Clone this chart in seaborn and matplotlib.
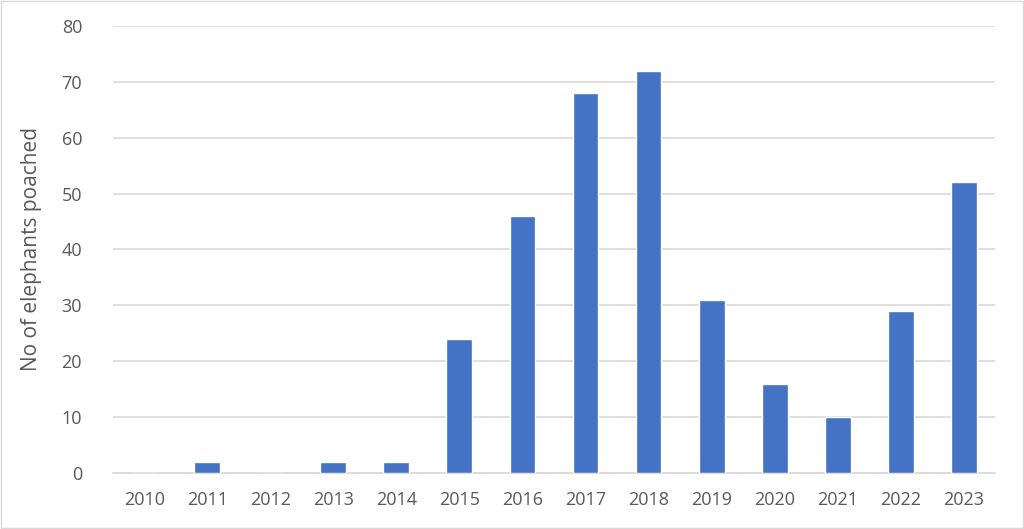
import seaborn as sns, matplotlib.pyplot as plt
import pandas as pd

years = ["2010", "2011", "2012", "2013", "2014", "2015", "2016",
         "2017", "2018", "2019", "2020", "2021", "2022", "2023"]
poached = [0, 2, 0, 2, 2, 24, 46, 68, 72, 31, 16, 10, 29, 52]
yticks = [0, 10, 20, 30, 40, 50, 60, 70, 80]

df = pd.DataFrame({"year": years, "poached": poached})

sns.set_style("white")
plt.rcParams['font.family'] = ['Open Sans', 'DejaVu Sans']

fig = plt.figure(figsize=(10.24, 5.29), dpi=100)
ax = fig.add_axes([0.110, 0.106, 0.862, 0.845])

sns.barplot(data=df, x="year", y="poached", color="#4472C4", width=0.41,
            saturation=1, ax=ax, zorder=3)

ax.set_ylim(0, 80)
ax.set_yticks(yticks)
ax.set_xlim(-0.5, len(years) - 0.5)
ax.yaxis.grid(True, color="#D9D9D9", linewidth=1.2, zorder=0)
ax.set_axisbelow(True)
for s in ["top", "right", "left"]:
    ax.spines[s].set_visible(False)
ax.spines["bottom"].set_color("#D9D9D9")
ax.spines["bottom"].set_linewidth(1.2)
ax.tick_params(axis="both", length=0, labelsize=13, colors="#595959")
ax.tick_params(axis="x", pad=13)
ax.tick_params(axis="y", pad=22)
ax.set_xlabel("")
ax.set_ylabel("No of elephants poached", fontsize=15, color="#595959", labelpad=14)

# light frame around the whole picture
fig.patches.append(plt.Rectangle((0.001, 0.002), 0.998, 0.996, transform=fig.transFigure,
                                 fill=False, edgecolor="#D9D9D9", linewidth=1))

plt.savefig("out.png", dpi=100)
